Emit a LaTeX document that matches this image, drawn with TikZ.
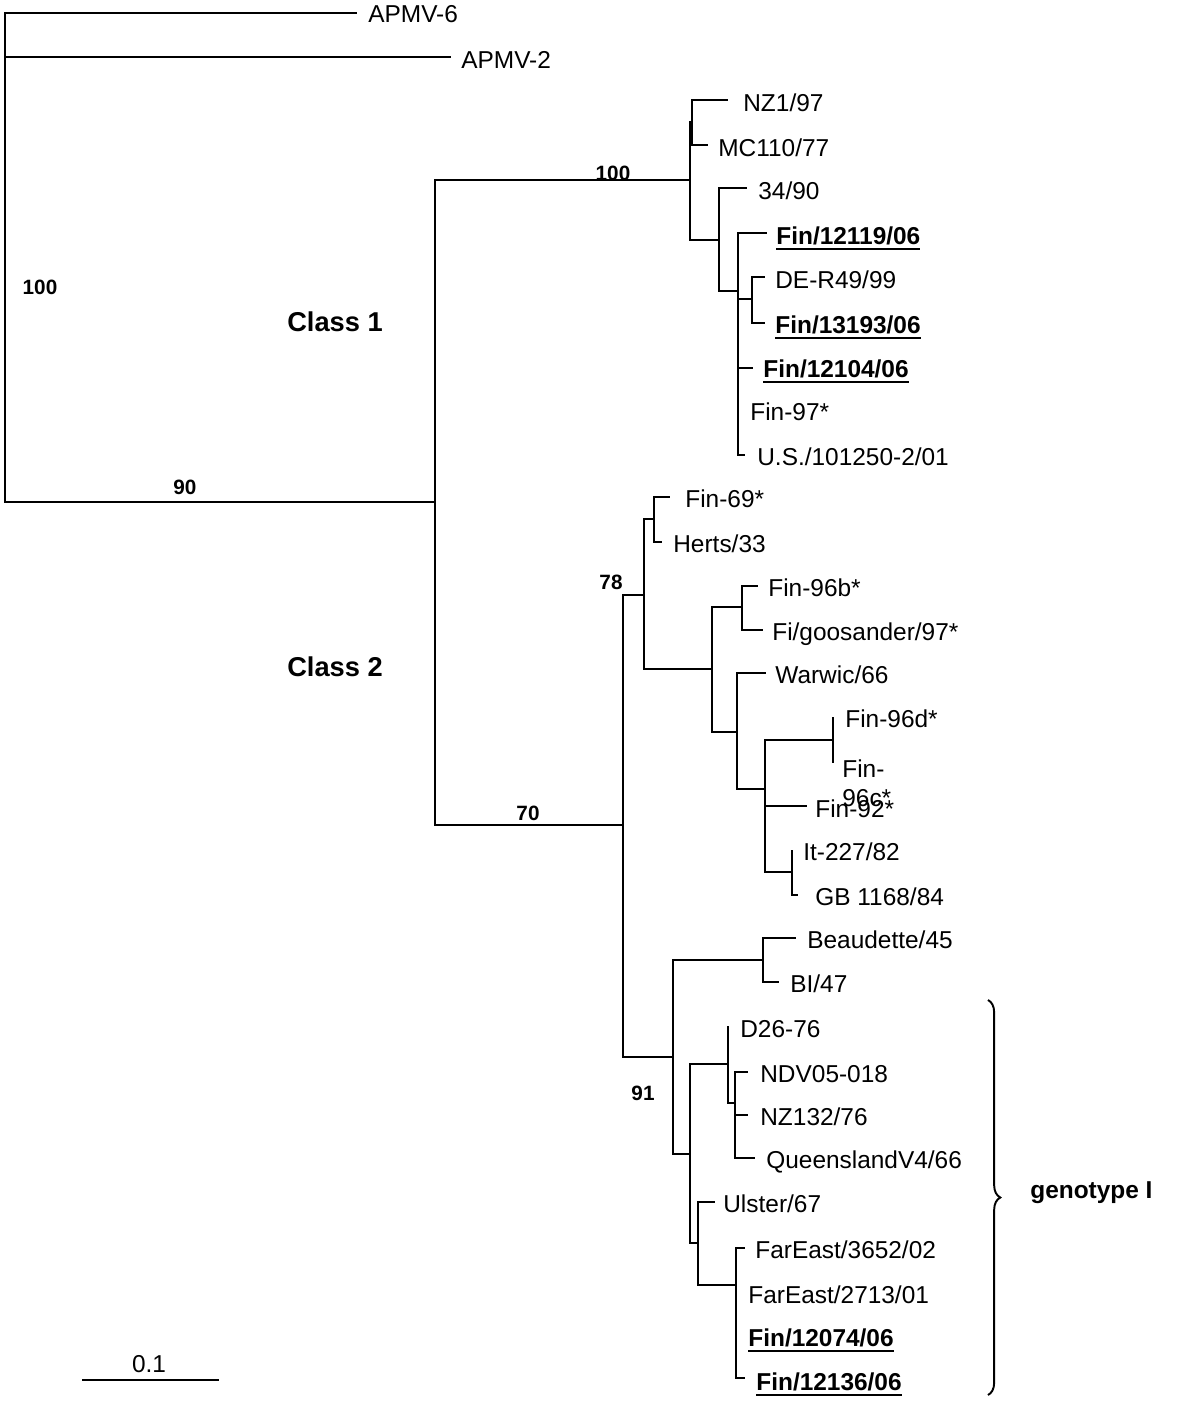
\documentclass[tikz,border=0pt]{standalone}
\usepackage{fontspec}
\setmainfont{Liberation Sans}
\usetikzlibrary{decorations.pathreplacing}
\newcommand{\isolate}[1]{\setbox0\hbox{\bfseries #1}\rlap{\rule[-3.4pt]{\wd0}{1.1pt}}\box0}
\tikzstyle{leaf}=[anchor=base west, inner sep=0pt, font=\fontsize{13.9}{16.5}\selectfont]
\tikzstyle{support}=[inner sep=0pt, font=\fontsize{11.8}{14}\selectfont\bfseries]
\tikzstyle{clade}=[inner sep=0pt, font=\fontsize{15.5}{18}\selectfont\bfseries]
\tikzstyle{branch edge}=[-, draw=black, line width=1.35pt]
\tikzstyle{brace edge}=[-, draw=black, line width=1.1pt, decorate, decoration={brace, amplitude=7pt}]
\pgfdeclarelayer{nodelayer}
\pgfdeclarelayer{edgelayer}
\pgfsetlayers{edgelayer,nodelayer,main}

\begin{document}
\begin{tikzpicture}[x=0.2mm, y=-0.2mm]
	\useasboundingbox (0, 0) rectangle (1200, 1422);
	\begin{pgfonlayer}{nodelayer}
		% internal nodes
		\coordinate (0) at (5, 258);
		\coordinate (1) at (435, 502);
		\coordinate (2) at (690, 180);
		\coordinate (3) at (692, 122);
		\coordinate (4) at (719, 240);
		\coordinate (5) at (738, 291);
		\coordinate (6) at (752, 299);
		\coordinate (7) at (623, 825);
		\coordinate (8) at (644, 595);
		\coordinate (9) at (654, 519);
		\coordinate (10) at (712, 669);
		\coordinate (11) at (742, 607);
		\coordinate (12) at (737, 732);
		\coordinate (13) at (765, 789);
		\coordinate (14) at (833, 740);
		\coordinate (15) at (792, 872);
		\coordinate (16) at (673, 1057);
		\coordinate (17) at (763, 960);
		\coordinate (18) at (690, 1154);
		\coordinate (19) at (728, 1064);
		\coordinate (20) at (735, 1103);
		\coordinate (21) at (698, 1243);
		\coordinate (22) at (736, 1285);
		% tips
		\coordinate (30) at (357, 13);
		\coordinate (31) at (451, 57);
		\coordinate (32) at (728, 100);
		\coordinate (33) at (708, 145);
		\coordinate (34) at (747, 188);
		\coordinate (35) at (767, 233);
		\coordinate (36) at (765, 277);
		\coordinate (37) at (765, 323);
		\coordinate (38) at (753, 368);
		\coordinate (39) at (738, 412);
		\coordinate (40) at (745, 455);
		\coordinate (41) at (670, 497);
		\coordinate (42) at (662, 542);
		\coordinate (43) at (758, 586);
		\coordinate (44) at (763, 630);
		\coordinate (45) at (766, 673);
		\coordinate (46) at (833, 717);
		\coordinate (47) at (833, 763);
		\coordinate (48) at (807, 806);
		\coordinate (49) at (792, 850);
		\coordinate (50) at (798, 895);
		\coordinate (51) at (796, 938);
		\coordinate (52) at (779, 982);
		\coordinate (53) at (728, 1026);
		\coordinate (54) at (748, 1072);
		\coordinate (55) at (748, 1115);
		\coordinate (56) at (755, 1158);
		\coordinate (57) at (715, 1202);
		\coordinate (58) at (745, 1248);
		\coordinate (59) at (736, 1293);
		\coordinate (60) at (736, 1337);
		\coordinate (61) at (745, 1378);
		% strain names
		\node [style=leaf] (130) at (368, 23) {APMV-6};
		\node [style=leaf] (131) at (461, 68) {APMV-2};
		\node [style=leaf] (132) at (743, 111) {NZ1/97};
		\node [style=leaf] (133) at (718, 156) {MC110/77};
		\node [style=leaf] (134) at (758, 199) {34/90};
		\node [style=leaf] (135) at (776, 244) {\isolate{Fin/12119/06}};
		\node [style=leaf] (136) at (775, 288) {DE-R49/99};
		\node [style=leaf] (137) at (775, 333) {\isolate{Fin/13193/06}};
		\node [style=leaf] (138) at (763, 377) {\isolate{Fin/12104/06}};
		\node [style=leaf] (139) at (750, 420) {Fin-97*};
		\node [style=leaf] (140) at (757, 465) {U.S./101250-2/01};
		\node [style=leaf] (141) at (685, 507) {Fin-69*};
		\node [style=leaf] (142) at (673, 552) {Herts/33};
		\node [style=leaf] (143) at (768, 596) {Fin-96b*};
		\node [style=leaf] (144) at (772, 640) {Fi/goosander/97*};
		\node [style=leaf] (145) at (775, 683) {Warwic/66};
		\node [style=leaf] (146) at (845, 727) {Fin-96d*};
		\node [style=leaf, anchor=north west, align=left] (147) at (842, 759) {Fin-\\96c*};
		\node [style=leaf] (148) at (815, 817) {Fin-92*};
		\node [style=leaf] (149) at (803, 860) {It-227/82};
		\node [style=leaf] (150) at (815, 905) {GB 1168/84};
		\node [style=leaf] (151) at (807, 948) {Beaudette/45};
		\node [style=leaf] (152) at (790, 992) {BI/47};
		\node [style=leaf] (153) at (740, 1037) {D26-76};
		\node [style=leaf] (154) at (760, 1082) {NDV05-018};
		\node [style=leaf] (155) at (760, 1125) {NZ132/76};
		\node [style=leaf] (156) at (766, 1168) {QueenslandV4/66};
		\node [style=leaf] (157) at (723, 1212) {Ulster/67};
		\node [style=leaf] (158) at (755, 1258) {FarEast/3652/02};
		\node [style=leaf] (159) at (748, 1303) {FarEast/2713/01};
		\node [style=leaf] (160) at (748, 1346) {\isolate{Fin/12074/06}};
		\node [style=leaf] (161) at (756, 1390) {\isolate{Fin/12136/06}};
		% bootstrap values
		\node [style=support] (200) at (40, 287) {100};
		\node [style=support] (201) at (185, 487) {90};
		\node [style=support] (202) at (613, 173) {100};
		\node [style=support] (203) at (528, 813) {70};
		\node [style=support] (204) at (611, 582) {78};
		\node [style=support] (205) at (643, 1093) {91};
		% clades
		\node [style=clade] (210) at (335, 322) {Class 1};
		\node [style=clade] (211) at (335, 667) {Class 2};
		\node [style=clade, anchor=west, font=\fontsize{13.9}{16.5}\selectfont\bfseries] (212) at (1030, 1193) {genotype I};
		\coordinate (230) at (988, 1000);
		\coordinate (231) at (988, 1395);
		% scale
		\coordinate (220) at (82, 1380);
		\coordinate (221) at (219, 1380);
		\node [style=leaf, anchor=center] (222) at (149, 1364) {0.1};
	\end{pgfonlayer}
	\begin{pgfonlayer}{edgelayer}
		\draw [style=branch edge] (0) |- (30);
		\draw [style=branch edge] (0) |- (31);
		\draw [style=branch edge] (0) |- (1);
		\draw [style=branch edge] (1) |- (2);
		\draw [style=branch edge] (1) |- (7);
		\draw [style=branch edge] (2) |- (3);
		\draw [style=branch edge] (2) |- (4);
		\draw [style=branch edge] (3) |- (32);
		\draw [style=branch edge] (3) |- (33);
		\draw [style=branch edge] (4) |- (34);
		\draw [style=branch edge] (4) |- (5);
		\draw [style=branch edge] (5) |- (35);
		\draw [style=branch edge] (5) |- (6);
		\draw [style=branch edge] (5) |- (38);
		\draw [style=branch edge] (5) |- (39);
		\draw [style=branch edge] (5) |- (40);
		\draw [style=branch edge] (6) |- (36);
		\draw [style=branch edge] (6) |- (37);
		\draw [style=branch edge] (7) |- (8);
		\draw [style=branch edge] (7) |- (16);
		\draw [style=branch edge] (8) |- (9);
		\draw [style=branch edge] (8) |- (10);
		\draw [style=branch edge] (9) |- (41);
		\draw [style=branch edge] (9) |- (42);
		\draw [style=branch edge] (10) |- (11);
		\draw [style=branch edge] (10) |- (12);
		\draw [style=branch edge] (11) |- (43);
		\draw [style=branch edge] (11) |- (44);
		\draw [style=branch edge] (12) |- (45);
		\draw [style=branch edge] (12) |- (13);
		\draw [style=branch edge] (13) |- (14);
		\draw [style=branch edge] (13) |- (48);
		\draw [style=branch edge] (13) |- (15);
		\draw [style=branch edge] (14) |- (46);
		\draw [style=branch edge] (14) |- (47);
		\draw [style=branch edge] (15) |- (49);
		\draw [style=branch edge] (15) |- (50);
		\draw [style=branch edge] (16) |- (17);
		\draw [style=branch edge] (16) |- (18);
		\draw [style=branch edge] (17) |- (51);
		\draw [style=branch edge] (17) |- (52);
		\draw [style=branch edge] (18) |- (19);
		\draw [style=branch edge] (18) |- (21);
		\draw [style=branch edge] (19) |- (53);
		\draw [style=branch edge] (19) |- (20);
		\draw [style=branch edge] (20) |- (54);
		\draw [style=branch edge] (20) |- (55);
		\draw [style=branch edge] (20) |- (56);
		\draw [style=branch edge] (21) |- (57);
		\draw [style=branch edge] (21) |- (22);
		\draw [style=branch edge] (22) |- (58);
		\draw [style=branch edge] (22) |- (59);
		\draw [style=branch edge] (22) |- (60);
		\draw [style=branch edge] (22) |- (61);
		\draw [style=brace edge] (230) to (231);
		\draw [style=branch edge] (220) to (221);
	\end{pgfonlayer}
\end{tikzpicture}
\end{document}
